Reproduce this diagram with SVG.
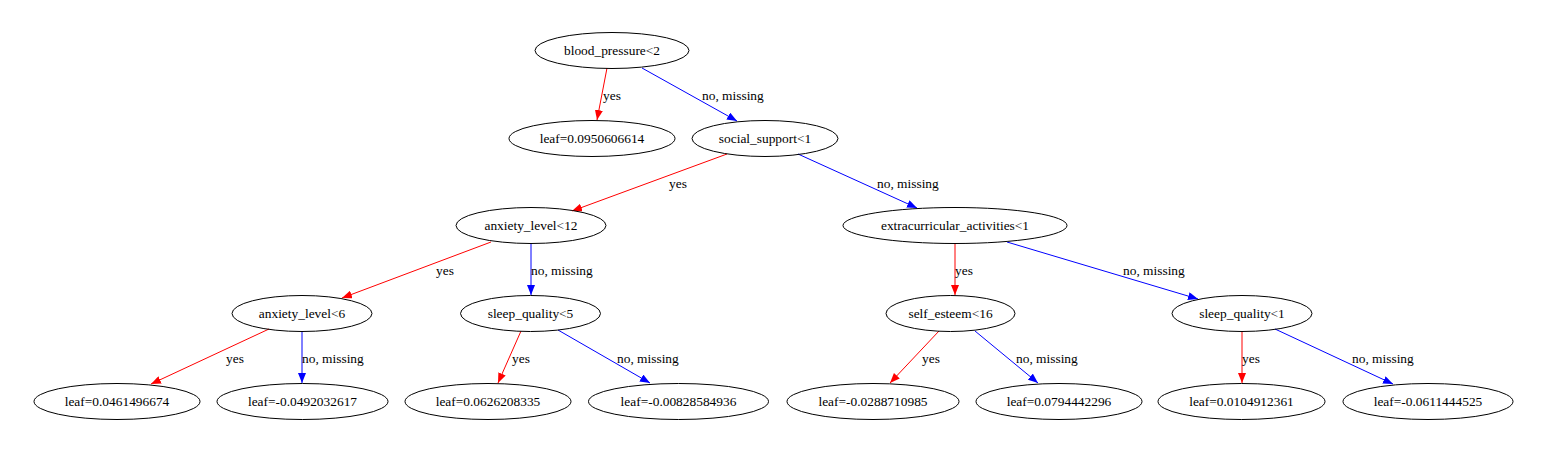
<svg xmlns="http://www.w3.org/2000/svg" width="1548" height="453" viewBox="0 0 1548 453">
<style>
.n ellipse{fill:none;stroke:#000;stroke-width:1}
text{font-family:'Liberation Serif','Times New Roman',Times,serif;font-size:13.4px;fill:#000}
.n text{text-anchor:middle}
.y{stroke:#FF0000;stroke-width:1;fill:none;marker-end:url(#ar)}
.no{stroke:#0000FF;stroke-width:1;fill:none;marker-end:url(#ab)}
</style>
<defs>
<marker id="ar" viewBox="0 0 10 8" refX="10" refY="4" markerWidth="10" markerHeight="8" markerUnits="userSpaceOnUse" orient="auto"><path d="M0,0 L10,4 L0,8 z" fill="#FF0000"/></marker>
<marker id="ab" viewBox="0 0 10 8" refX="10" refY="4" markerWidth="10" markerHeight="8" markerUnits="userSpaceOnUse" orient="auto"><path d="M0,0 L10,4 L0,8 z" fill="#0000FF"/></marker>
</defs>
<rect width="1548" height="453" fill="#fff"/>
<g id="edges">
<line class="y" x1="607" y1="68" x2="597" y2="120"/>
<text x="603" y="100">yes</text>
<line class="no" x1="642" y1="68" x2="737" y2="121"/>
<text x="702" y="100">no, missing</text>
<line class="y" x1="727" y1="154" x2="572" y2="211"/>
<text x="669" y="188">yes</text>
<line class="no" x1="798" y1="154" x2="917" y2="208"/>
<text x="877" y="188">no, missing</text>
<line class="y" x1="491" y1="242" x2="342" y2="298"/>
<text x="436" y="275">yes</text>
<line class="no" x1="531" y1="243" x2="531" y2="295"/>
<text x="531" y="275">no, missing</text>
<line class="y" x1="955" y1="243" x2="955" y2="295"/>
<text x="955" y="275">yes</text>
<line class="no" x1="1007" y1="242" x2="1198" y2="299"/>
<text x="1123" y="275">no, missing</text>
<line class="y" x1="269" y1="329" x2="151" y2="384"/>
<text x="226" y="363">yes</text>
<line class="no" x1="302" y1="331" x2="302" y2="383"/>
<text x="302" y="363">no, missing</text>
<line class="y" x1="521" y1="331" x2="498" y2="383"/>
<text x="512" y="363">yes</text>
<line class="no" x1="558" y1="330" x2="650" y2="383"/>
<text x="617" y="363">no, missing</text>
<line class="y" x1="939" y1="331" x2="890" y2="383"/>
<text x="922" y="363">yes</text>
<line class="no" x1="975" y1="331" x2="1038" y2="383"/>
<text x="1016" y="363">no, missing</text>
<line class="y" x1="1242" y1="331" x2="1242" y2="383"/>
<text x="1242" y="363">yes</text>
<line class="no" x1="1275" y1="329" x2="1393" y2="384"/>
<text x="1352" y="363">no, missing</text>
</g>
<g id="n0" class="n"><ellipse cx="612" cy="50.5" rx="77" ry="18"/><text x="612" y="55">blood_pressure&lt;2</text></g>
<g id="n1" class="n"><ellipse cx="592" cy="138.5" rx="83" ry="18"/><text x="592" y="143">leaf=0.0950606614</text></g>
<g id="n2" class="n"><ellipse cx="765" cy="138.5" rx="73" ry="18"/><text x="765" y="143">social_support&lt;1</text></g>
<g id="n3" class="n"><ellipse cx="531" cy="225.5" rx="75" ry="18"/><text x="531" y="230">anxiety_level&lt;12</text></g>
<g id="n4" class="n"><ellipse cx="955" cy="225.5" rx="112" ry="18"/><text x="955" y="230">extracurricular_activities&lt;1</text></g>
<g id="n5" class="n"><ellipse cx="302" cy="313.5" rx="70" ry="18"/><text x="302" y="318">anxiety_level&lt;6</text></g>
<g id="n6" class="n"><ellipse cx="530.5" cy="313.5" rx="70" ry="18"/><text x="530.5" y="318">sleep_quality&lt;5</text></g>
<g id="n7" class="n"><ellipse cx="950.5" cy="313.5" rx="64.5" ry="18"/><text x="950.5" y="318">self_esteem&lt;16</text></g>
<g id="n8" class="n"><ellipse cx="1242" cy="313.5" rx="70" ry="18"/><text x="1242" y="318">sleep_quality&lt;1</text></g>
<g id="n9" class="n"><ellipse cx="117" cy="401.5" rx="83" ry="18"/><text x="117" y="406">leaf=0.0461496674</text></g>
<g id="n10" class="n"><ellipse cx="302.5" cy="401.5" rx="85.5" ry="18"/><text x="302.5" y="406">leaf=-0.0492032617</text></g>
<g id="n11" class="n"><ellipse cx="488" cy="401.5" rx="83" ry="18"/><text x="488" y="406">leaf=0.0626208335</text></g>
<g id="n12" class="n"><ellipse cx="678.5" cy="401.5" rx="90" ry="18"/><text x="678.5" y="406">leaf=-0.00828584936</text></g>
<g id="n13" class="n"><ellipse cx="873" cy="401.5" rx="86" ry="18"/><text x="873" y="406">leaf=-0.0288710985</text></g>
<g id="n14" class="n"><ellipse cx="1059" cy="401.5" rx="83" ry="18"/><text x="1059" y="406">leaf=0.0794442296</text></g>
<g id="n15" class="n"><ellipse cx="1241.5" cy="401.5" rx="83.5" ry="18"/><text x="1241.5" y="406">leaf=0.0104912361</text></g>
<g id="n16" class="n"><ellipse cx="1428" cy="401.5" rx="85" ry="18"/><text x="1428" y="406">leaf=-0.0611444525</text></g>
</svg>
